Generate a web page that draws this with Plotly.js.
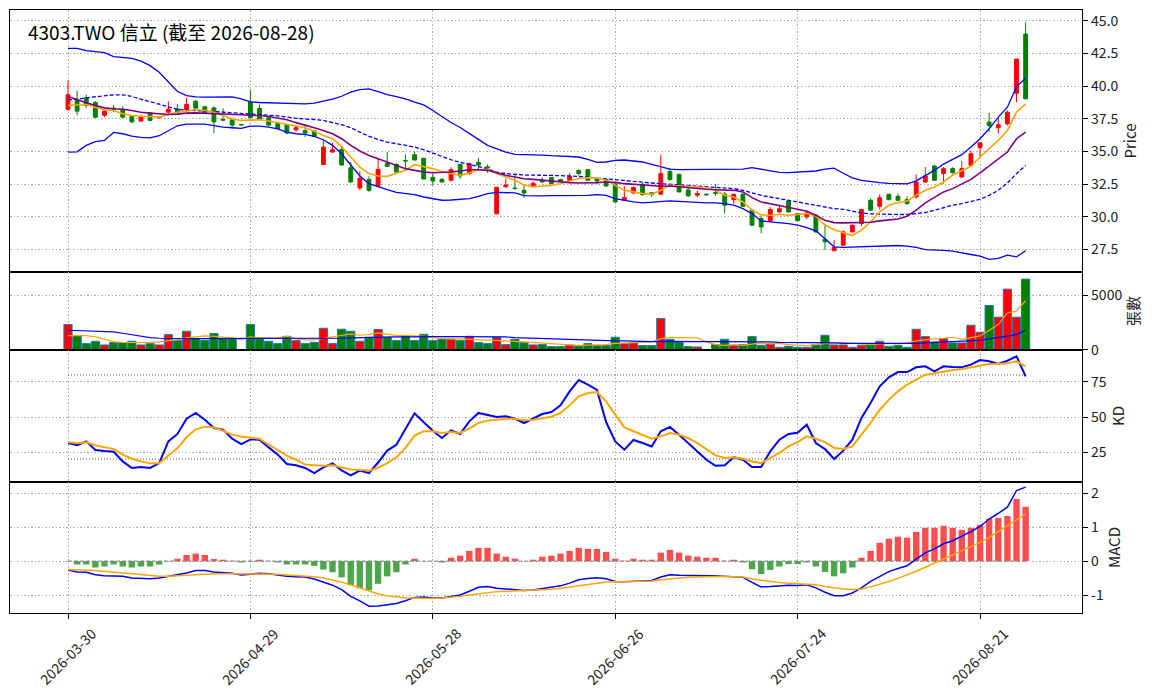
<!DOCTYPE html>
<html>
<head>
<meta charset="utf-8">
<script src="https://cdn.plot.ly/plotly-3.0.1.min.js"></script>
<style>
  html, body { margin: 0; padding: 0; background: #fff; }
  #chart { width: 1155px; height: 698px; }
</style>
</head>
<body>
<div id="chart"></div>
<script>
// trading days, 2026-03-30 .. 2026-08-28 (TW market holidays skipped)
var holidays = ['2026-04-03', '2026-04-06', '2026-05-01', '2026-06-19'];
var dates = [];
var day = new Date(Date.UTC(2026, 2, 30));
var lastDay = new Date(Date.UTC(2026, 7, 28));
while (day <= lastDay) {
  var s = day.toISOString().slice(0, 10);
  var wd = day.getUTCDay();
  if (wd !== 0 && wd !== 6 && holidays.indexOf(s) < 0) dates.push(s);
  day.setUTCDate(day.getUTCDate() + 1);
}

// OHLC
var open = [38.23,38.94,39.10,38.74,37.77,38.30,38.21,37.67,37.32,37.95,37.58,38.00,38.25,38.18,38.84,38.41,38.33,37.45,37.44,37.06,
  38.79,38.28,37.57,37.14,37.06,36.65,36.60,36.58,34.00,34.95,35.15,33.75,32.20,32.84,32.33,34.08,34.00,34.30,34.75,34.47,
  33.02,32.86,32.79,34.01,33.30,34.16,33.82,30.22,32.30,32.20,32.02,32.35,32.79,32.99,32.85,32.79,33.55,33.60,32.91,32.84,
  32.51,31.26,31.82,32.48,31.84,31.72,33.47,33.24,32.05,31.65,31.72,31.85,31.72,31.31,31.72,30.50,29.86,29.68,30.37,31.21,
  30.24,29.99,30.11,28.26,27.39,27.82,28.84,29.48,31.26,30.80,31.72,31.56,31.31,31.51,32.66,33.88,33.30,33.68,33.04,33.93,
  35.28,37.24,36.81,37.11,39.45,43.98];
var high = [40.42,39.66,39.35,38.85,38.26,38.56,38.46,37.75,37.80,38.00,37.70,38.84,38.60,39.10,38.95,38.49,38.44,38.30,37.57,37.10,
  39.71,38.59,37.65,37.20,37.10,36.98,37.10,36.60,35.89,35.64,35.38,34.19,33.50,33.09,34.49,34.95,34.10,34.75,35.00,34.50,
  33.30,32.95,33.80,34.05,34.15,34.49,34.00,32.30,32.90,33.24,32.50,32.70,33.00,33.00,32.90,33.35,33.60,33.65,33.00,32.90,
  32.60,32.33,32.33,32.60,31.90,34.77,33.75,33.30,32.20,32.00,31.78,32.50,31.90,31.75,31.80,30.60,30.04,30.75,30.83,31.30,
  30.30,30.50,30.20,29.48,28.21,28.97,29.40,30.62,31.40,31.72,31.75,31.77,31.56,33.24,33.80,33.98,33.80,33.80,34.26,35.08,
  35.71,37.95,37.57,38.13,42.07,44.87];
var low = [38.10,37.77,38.33,37.57,37.62,38.00,37.57,37.16,37.30,37.30,37.50,37.88,37.85,38.00,38.23,37.88,36.40,37.30,36.73,37.00,
  37.50,37.37,36.95,36.70,36.30,36.47,36.10,36.10,34.00,34.90,33.91,32.60,32.02,31.90,32.30,33.80,33.40,33.60,34.30,32.85,
  32.40,32.60,32.70,32.90,33.20,33.60,33.35,30.20,32.20,32.10,31.46,32.30,32.60,32.50,32.70,32.75,33.15,32.75,32.48,32.30,
  31.10,31.20,31.72,31.60,31.50,31.70,32.74,31.85,31.50,31.50,31.65,31.60,30.24,31.00,30.75,29.30,28.72,29.65,30.30,30.30,
  29.65,29.80,28.80,27.44,27.39,27.80,28.80,29.27,30.45,30.55,31.25,31.20,30.95,31.39,32.60,32.74,32.53,33.30,33.00,33.90,
  34.56,36.48,36.35,36.98,38.77,39.00];
var close = [39.33,38.08,38.51,37.62,38.08,38.25,37.62,37.26,37.67,37.37,37.62,38.23,37.95,38.59,38.31,37.95,37.26,37.40,37.01,37.03,
  37.59,37.44,37.01,36.75,36.40,36.81,36.40,36.15,35.33,35.13,33.96,32.66,32.94,32.02,33.63,33.85,33.42,34.27,34.34,32.89,
  32.74,32.66,33.60,33.12,34.06,33.96,33.74,32.25,32.43,32.15,31.82,32.56,32.66,32.53,32.73,33.09,33.30,32.79,32.74,32.35,
  31.13,31.46,32.23,31.69,31.69,33.30,32.84,31.90,31.60,31.77,31.68,31.80,30.88,31.72,30.80,29.35,29.22,30.55,30.61,30.37,
  29.70,30.29,28.84,28.08,27.65,28.84,29.35,30.55,30.50,31.46,31.31,31.26,31.00,32.66,33.12,32.79,33.68,33.37,33.68,34.82,
  35.66,36.98,37.04,38.00,42.07,39.02];

// price overlays
var ma5 = [38.51,38.56,38.59,38.38,38.18,38.13,37.88,37.75,37.67,37.67,37.62,37.82,38.00,38.08,38.21,38.13,38.00,37.75,37.47,37.37,
  37.37,37.42,37.32,37.19,37.04,36.90,36.81,36.55,36.22,35.97,35.38,34.57,33.80,33.30,33.12,33.09,33.30,33.55,33.98,33.85,
  33.68,33.45,33.30,33.17,33.35,33.60,33.63,33.30,33.04,32.79,32.43,32.28,32.35,32.40,32.53,32.74,32.92,32.99,32.96,32.79,
  32.40,32.02,31.90,31.77,31.72,32.02,32.40,32.35,32.28,32.28,32.23,32.02,31.64,31.51,31.13,30.50,30.14,30.11,30.19,30.11,
  30.19,30.24,30.06,29.35,29.00,28.77,28.56,28.97,29.61,30.37,30.88,31.08,31.21,31.64,32.02,32.28,32.66,33.19,33.50,33.85,
  34.57,35.20,35.84,36.60,38.00,38.64];
var ma10 = [39.20,38.94,38.72,38.51,38.33,38.26,38.23,38.13,38.00,37.93,37.85,37.82,37.85,37.93,37.95,37.93,37.88,37.88,37.82,37.80,
  37.75,37.75,37.67,37.57,37.42,37.20,36.98,36.81,36.60,36.35,35.97,35.46,35.03,34.69,34.44,34.19,33.93,33.68,33.55,33.42,
  33.37,33.37,33.42,33.50,33.60,33.60,33.55,33.37,33.17,33.04,32.91,32.86,32.79,32.74,32.66,32.61,32.58,32.58,32.61,32.66,
  32.63,32.53,32.48,32.38,32.33,32.33,32.35,32.28,32.20,32.15,32.10,32.07,32.02,32.02,31.90,31.46,31.13,31.00,30.88,30.75,
  30.57,30.42,30.11,29.73,29.55,29.53,29.53,29.53,29.58,29.68,29.78,29.83,30.04,30.50,31.06,31.46,31.90,32.15,32.48,32.86,
  33.35,33.88,34.44,34.95,35.97,36.48];
var bbMid = [38.94,38.99,39.10,39.17,39.22,39.33,39.33,39.20,38.99,38.82,38.61,38.41,38.21,38.16,38.13,38.10,38.05,38.00,37.95,37.90,
  37.85,37.82,37.80,37.72,37.62,37.52,37.47,37.44,37.37,37.21,37.04,36.81,36.48,36.15,35.92,35.71,35.59,35.46,35.33,35.13,
  34.87,34.62,34.36,34.16,34.01,33.85,33.65,33.42,33.30,33.24,33.19,33.19,33.19,33.17,33.14,33.12,33.09,33.04,32.96,32.89,
  32.81,32.74,32.68,32.63,32.58,32.53,32.48,32.43,32.38,32.35,32.33,32.28,32.23,32.15,32.02,31.82,31.64,31.51,31.39,31.26,
  31.13,31.00,30.88,30.75,30.62,30.57,30.42,30.29,30.22,30.19,30.17,30.17,30.17,30.22,30.32,30.50,30.70,30.88,31.00,31.16,
  31.34,31.64,32.02,32.58,33.30,33.93];
var bbUpper = [42.89,42.89,42.71,42.61,42.56,42.25,42.20,42.12,41.90,41.56,41.06,40.34,39.58,39.27,39.17,39.15,39.15,39.15,39.17,39.02,
  38.79,38.74,38.72,38.66,38.64,38.65,38.64,38.69,38.82,39.00,39.22,39.53,39.73,39.78,39.58,39.35,39.20,39.02,38.77,38.56,
  38.13,37.67,37.21,36.83,36.40,35.92,35.46,35.18,34.95,34.77,34.77,34.77,34.72,34.67,34.62,34.62,34.57,34.39,34.16,34.19,
  34.31,34.34,34.26,34.19,34.01,33.80,33.65,33.60,33.60,33.60,33.60,33.60,33.60,33.60,33.65,33.75,33.65,33.50,33.40,33.37,
  33.40,33.42,33.50,33.65,33.72,33.33,32.98,32.79,32.68,32.61,32.56,32.51,32.51,32.74,33.12,33.55,34.03,34.39,34.75,35.33,
  35.97,36.73,37.62,38.38,39.96,40.60];
var bbLower = [34.95,34.97,35.46,35.74,35.84,36.45,36.35,36.17,36.07,36.04,36.20,36.60,36.96,37.09,37.11,37.09,36.98,36.86,36.81,36.76,
  36.93,36.93,36.86,36.73,36.48,36.35,36.30,36.15,35.89,35.46,34.82,33.93,33.12,32.53,32.28,32.07,31.87,31.77,31.69,31.51,
  31.36,31.26,31.28,31.31,31.39,31.56,31.77,31.87,31.84,31.82,31.62,31.59,31.59,31.62,31.62,31.59,31.59,31.64,31.69,31.64,
  31.39,31.26,31.13,31.06,31.11,31.16,31.21,31.18,31.13,31.08,31.06,31.06,31.00,30.88,30.62,30.24,29.68,29.61,29.55,29.48,
  29.35,29.17,28.92,28.33,27.70,27.65,27.67,27.70,27.72,27.75,27.77,27.80,27.75,27.65,27.49,27.47,27.42,27.37,27.26,27.11,
  26.98,26.73,26.81,27.06,26.93,27.39];

// volume (張) and its moving averages
var volume = [2331,1319,583,797,460,675,675,797,460,583,460,1411,859,1718,1043,890,1503,1043,1043,30,
  2331,1043,797,583,1257,859,583,705,1994,583,1902,1718,797,1165,1880,1165,859,1288,859,1442,
  859,981,981,859,1257,675,583,1165,491,981,675,460,491,307,307,460,368,583,399,399,
  1165,583,644,399,399,2883,981,675,307,276,20,491,981,399,491,1227,429,583,245,337,
  245,245,491,1350,460,460,245,429,491,797,337,429,245,1902,1227,736,1043,644,644,2270,
  1626,4079,3006,5582,3006,6502];
var volMa5 = [1319,1349,1319,1196,981,767,705,675,675,675,736,828,951,1104,1227,1288,1257,1196,1104,951,
  1196,1104,1073,1104,1257,1012,951,920,1073,1227,1380,1472,1349,1411,1564,1441,1319,1349,1319,1257,
  1104,1043,1012,1012,981,951,951,920,859,797,736,675,583,521,491,460,429,429,429,491,
  613,644,644,644,736,1043,1165,1135,1135,1104,736,491,429,491,429,521,644,552,613,491,
  429,399,491,613,675,675,613,552,491,552,613,583,644,828,951,1012,1073,1165,981,1104,
  1288,1810,2331,3404,3558,4539];
var volMa20 = [1810,1779,1779,1748,1718,1656,1534,1380,1227,1135,1073,1043,1012,1043,1043,1043,1012,1012,1012,1012,
  1043,1043,1043,1043,1043,1043,1012,1012,1012,1043,1073,1104,1135,1165,1196,1196,1196,1196,1227,1227,
  1227,1227,1227,1227,1227,1227,1227,1227,1196,1135,1104,1043,1012,981,951,920,889,889,859,859,
  828,828,797,797,767,797,797,797,767,767,767,736,736,736,736,736,736,736,705,705,
  675,675,644,644,644,613,613,583,583,552,552,552,583,613,644,675,705,736,767,828,
  889,1012,1135,1288,1411,1840];

// KD
var kLine = [31.4,29.8,32.6,26.4,25.7,25.2,18.3,13.6,14.3,13.6,17.1,32.6,37.9,48.8,52.9,48.1,42.1,41.0,34.5,30.7,
  34.0,33.8,28.3,23.1,16.4,15.5,13.6,10.0,14.0,16.9,11.9,8.3,11.7,10.0,17.5,26.0,30.2,41.0,52.6,46.2,
  40.2,35.0,40.5,37.9,46.9,52.9,51.2,50.0,50.5,48.8,45.7,48.8,52.1,53.6,58.3,68.3,76.4,73.1,69.3,46.4,
  32.6,26.7,33.6,31.4,29.0,39.8,42.9,37.4,31.4,25.5,19.5,15.2,15.5,21.3,19.5,14.3,14.3,25.5,33.8,37.9,
  38.8,44.5,31.4,27.1,20.0,26.0,33.8,49.3,60.0,71.9,78.3,82.1,82.1,85.5,86.2,82.6,86.2,85.7,85.5,87.4,
  90.7,89.8,87.9,90.2,93.3,79.0];
var dLine = [32.1,31.2,31.9,29.8,28.3,27.1,23.1,20.2,18.3,16.9,16.9,22.6,27.9,35.5,41.2,43.1,42.6,40.2,37.4,36.0,
  35.5,34.5,30.2,26.0,22.4,19.5,16.0,15.5,15.2,15.5,14.3,12.6,12.4,11.7,13.8,17.1,21.2,27.9,36.7,39.8,
  39.8,38.6,39.3,38.6,41.7,45.7,47.4,48.1,48.8,48.8,47.6,48.1,49.3,50.2,52.9,58.3,64.8,67.1,67.9,61.2,
  51.7,42.6,39.8,36.9,34.5,36.2,38.6,37.4,35.0,31.4,26.7,22.6,20.7,21.2,20.2,18.3,17.1,20.7,24.3,29.0,
  32.1,36.2,34.5,32.1,27.9,27.1,29.0,37.4,45.7,55.2,62.4,68.3,73.1,76.7,80.2,81.2,82.6,83.6,84.3,85.5,
  86.9,87.9,87.9,88.3,89.8,86.2];

// MACD
var dif = [-0.26,-0.32,-0.33,-0.40,-0.43,-0.43,-0.45,-0.50,-0.51,-0.52,-0.50,-0.45,-0.42,-0.35,-0.28,-0.28,-0.32,-0.33,-0.36,-0.41,
  -0.38,-0.36,-0.37,-0.41,-0.45,-0.46,-0.47,-0.53,-0.63,-0.71,-0.84,-1.04,-1.17,-1.33,-1.32,-1.29,-1.25,-1.17,-1.07,-1.06,
  -1.09,-1.09,-1.04,-1.00,-0.89,-0.77,-0.75,-0.80,-0.82,-0.85,-0.87,-0.85,-0.81,-0.77,-0.73,-0.65,-0.55,-0.51,-0.49,-0.52,
  -0.60,-0.61,-0.60,-0.60,-0.57,-0.47,-0.40,-0.42,-0.43,-0.43,-0.43,-0.43,-0.45,-0.47,-0.48,-0.63,-0.76,-0.75,-0.72,-0.71,
  -0.72,-0.70,-0.79,-0.92,-1.02,-1.02,-0.94,-0.79,-0.60,-0.45,-0.31,-0.22,-0.14,0.06,0.24,0.36,0.51,0.60,0.73,0.87,
  1.02,1.24,1.41,1.59,2.08,2.18];
var signal = [-0.25,-0.25,-0.27,-0.28,-0.31,-0.33,-0.35,-0.37,-0.40,-0.42,-0.45,-0.45,-0.43,-0.41,-0.39,-0.38,-0.37,-0.37,-0.37,-0.37,
  -0.37,-0.37,-0.37,-0.39,-0.41,-0.42,-0.44,-0.46,-0.50,-0.55,-0.62,-0.70,-0.79,-0.89,-0.97,-1.02,-1.06,-1.08,-1.09,-1.10,
  -1.10,-1.09,-1.07,-1.04,-1.00,-0.96,-0.92,-0.90,-0.89,-0.88,-0.87,-0.86,-0.85,-0.83,-0.80,-0.76,-0.73,-0.69,-0.65,-0.62,
  -0.61,-0.61,-0.61,-0.60,-0.59,-0.55,-0.52,-0.50,-0.48,-0.47,-0.46,-0.45,-0.45,-0.46,-0.47,-0.53,-0.57,-0.61,-0.63,-0.65,
  -0.66,-0.67,-0.70,-0.75,-0.79,-0.82,-0.84,-0.82,-0.76,-0.69,-0.60,-0.51,-0.41,-0.30,-0.18,-0.06,0.07,0.19,0.30,0.43,
  0.55,0.70,0.87,1.04,1.22,1.39];
var hist = [-0.01,-0.10,-0.10,-0.19,-0.16,-0.10,-0.16,-0.19,-0.16,-0.16,-0.10,-0.01,0.07,0.18,0.22,0.18,0.06,0.04,0.01,-0.04,
  -0.01,0.04,0.00,-0.04,-0.10,-0.10,-0.10,-0.14,-0.25,-0.33,-0.48,-0.71,-0.80,-0.86,-0.67,-0.45,-0.33,-0.10,0.07,0.00,
  0.00,-0.04,0.10,0.16,0.30,0.39,0.39,0.22,0.13,0.07,0.00,0.04,0.13,0.16,0.22,0.30,0.39,0.36,0.36,0.27,
  0.07,0.01,0.07,0.04,0.04,0.25,0.33,0.25,0.16,0.13,0.10,0.10,0.01,0.04,-0.04,-0.24,-0.38,-0.26,-0.16,-0.09,
  -0.09,-0.04,-0.16,-0.32,-0.45,-0.36,-0.19,0.10,0.30,0.54,0.66,0.72,0.69,0.86,0.98,0.98,1.04,0.98,0.92,0.98,
  1.07,1.25,1.27,1.33,1.83,1.60];

var tickIdx = [0, 20, 40, 60, 80, 100];

var idx = dates.map(function (d, i) { return i; });
var up = '#ff0000', down = '#008000';
var volColors = close.map(function (c, i) { return c >= open[i] ? up : down; });
var histColors = hist.map(function (h) { return h >= 0 ? '#ff4d4d' : '#4ca64c'; });
var first = idx[0], last = idx[idx.length - 1];

function line(y, color, width, xa, ya, dash) {
  return { type: 'scatter', mode: 'lines', x: idx, y: y, xaxis: xa, yaxis: ya,
    line: { color: color, width: width, dash: dash || 'solid' }, hoverinfo: 'skip' };
}
function refLine(v, color, dash, xa, ya) {
  return { type: 'scatter', mode: 'lines', x: [first, last], y: [v, v], xaxis: xa, yaxis: ya,
    line: { color: color, width: 1, dash: dash }, hoverinfo: 'skip' };
}

var data = [
  {
    type: 'candlestick', x: idx, open: open, high: high, low: low, close: close,
    xaxis: 'x', yaxis: 'y', whiskerwidth: 0,
    increasing: { line: { color: up, width: 1 }, fillcolor: up },
    decreasing: { line: { color: down, width: 1 }, fillcolor: down },
    hoverinfo: 'skip'
  },
  line(bbUpper, '#0000ff', 1.3, 'x', 'y'),
  line(bbLower, '#0000ff', 1.3, 'x', 'y'),
  line(bbMid, '#0000ff', 1.3, 'x', 'y', '4px,2px'),
  line(ma5, '#ffa500', 1.6, 'x', 'y'),
  line(ma10, '#800080', 1.6, 'x', 'y'),

  { type: 'bar', x: idx, y: volume, xaxis: 'x2', yaxis: 'y2', width: 0.9,
    marker: { color: volColors, line: { color: '#1f77b4', width: 1 } }, hoverinfo: 'skip' },
  line(volMa5, '#ffa500', 1.2, 'x2', 'y2'),
  line(volMa20, '#0000ff', 1.2, 'x2', 'y2'),

  refLine(80, '#555555', '1px,2px', 'x3', 'y3'),
  refLine(20, '#555555', '1px,2px', 'x3', 'y3'),
  line(kLine, '#0000ff', 2, 'x3', 'y3'),
  line(dLine, '#ffa500', 2, 'x3', 'y3'),

  { type: 'bar', x: idx, y: hist, xaxis: 'x4', yaxis: 'y4', width: 0.7,
    marker: { color: histColors }, hoverinfo: 'skip' },
  refLine(0, '#808080', '4px,2px', 'x4', 'y4'),
  line(dif, '#0000ff', 1.5, 'x4', 'y4'),
  line(signal, '#ffa500', 1.5, 'x4', 'y4')
];

var font = { family: 'Noto Sans CJK TC, Noto Sans, DejaVu Sans, sans-serif', size: 14, color: '#222' };
var grid = { showgrid: true, gridcolor: '#b0b0b0', griddash: '1.5px,2px', gridwidth: 1 };

function xAxis(anchor, showTicks) {
  return Object.assign({
    anchor: anchor, range: [-6.36, 111.18], matches: anchor === 'y' ? undefined : 'x',
    tickmode: 'array', tickvals: tickIdx,
    showticklabels: false, ticks: showTicks ? 'outside' : '', ticklen: 5, tickcolor: '#000',
    showline: true, mirror: true, linecolor: '#000', linewidth: 1.3,
    zeroline: false, rangeslider: { visible: false }, fixedrange: true
  }, grid);
}
function yAxis(anchor, domain, range, tickvals, ticktext, title) {
  return Object.assign({
    anchor: anchor, domain: domain, range: range, side: 'right',
    tickmode: 'array', tickvals: tickvals, ticktext: ticktext,
    ticks: 'outside', ticklen: 5, tickcolor: '#000',
    showline: true, mirror: true, linecolor: '#000', linewidth: 1.3, zeroline: false,
    title: { text: title, font: { size: 15 }, standoff: 6 }, fixedrange: true
  }, grid);
}

// date labels rotated about their centre, centred on each tick
var annotations = tickIdx.map(function (i) {
  return {
    xref: 'x4', yref: 'paper', x: i, y: -0.072, xanchor: 'center', yanchor: 'middle',
    text: dates[i], textangle: -45, showarrow: false, font: { size: 14, color: '#222' }
  };
});
annotations.push({
  xref: 'paper', yref: 'paper', x: 0.015, y: 0.965, xanchor: 'left', yanchor: 'middle',
  text: '4303.TWO 信立 (截至 ' + dates[dates.length - 1] + ')', showarrow: false,
  font: { size: 19, color: '#000' }
});

var layout = {
  width: 1155, height: 698,
  margin: { l: 10, r: 73, t: 10, b: 85 },
  paper_bgcolor: '#fff', plot_bgcolor: '#fff',
  font: font, showlegend: false, boxgap: 0.4, bargap: 0.1,
  xaxis: xAxis('y', false),
  xaxis2: xAxis('y2', false),
  xaxis3: xAxis('y3', false),
  xaxis4: xAxis('y4', true),
  yaxis: yAxis('x', [0.5655, 1], [25.77, 45.82], [27.5, 30, 32.5, 35, 37.5, 40, 42.5, 45],
    ['27.5', '30.0', '32.5', '35.0', '37.5', '40.0', '42.5', '45.0'], 'Price'),
  yaxis2: yAxis('x2', [0.4362, 0.5655], [0, 7153], [0, 5000], ['0', '5000'], '張數'),
  yaxis3: yAxis('x3', [0.2172, 0.4362], [3.57, 97.86], [25, 50, 75], ['25', '50', '75'], 'KD'),
  yaxis4: yAxis('x4', [0, 0.2172], [-1.53, 2.33], [-1, 0, 1, 2], ['-1', '0', '1', '2'], 'MACD'),
  annotations: annotations
};

Plotly.newPlot('chart', data, layout, { staticPlot: true, displayModeBar: false });
</script>
</body>
</html>
